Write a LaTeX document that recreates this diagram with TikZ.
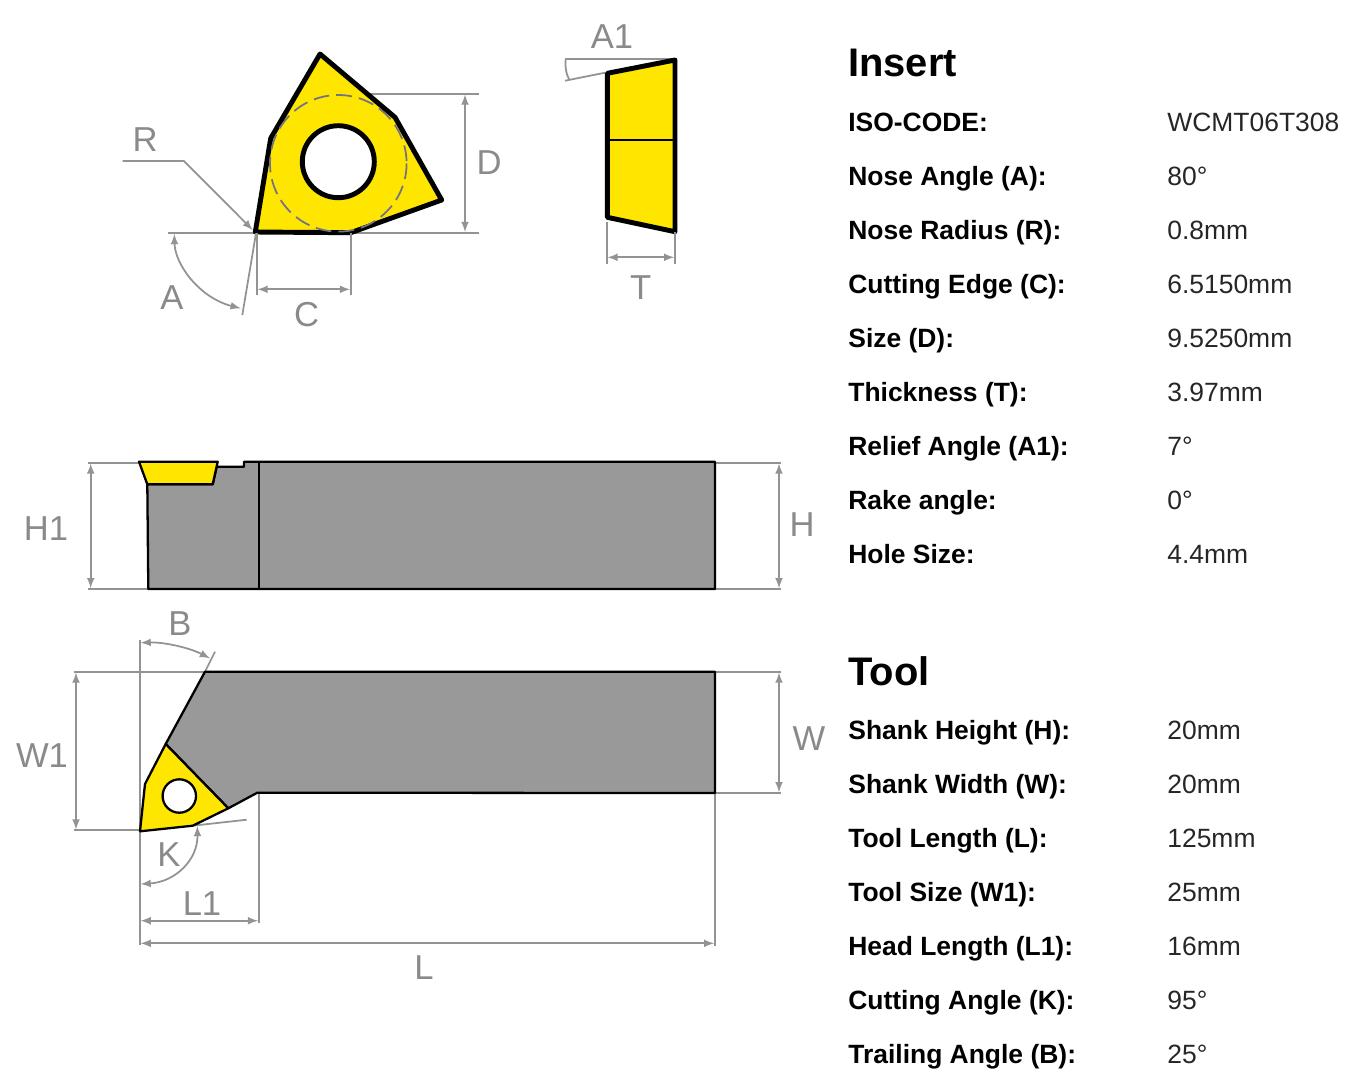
\documentclass[tikz,border=0pt]{standalone}
\usepackage{fontspec}
\setmainfont{Liberation Sans}
\tikzset{>=latex}
\definecolor{insertyellow}{HTML}{FFE600}
\definecolor{shankgray}{HTML}{999999}
\definecolor{dimgray}{HTML}{939393}
\definecolor{labelgray}{HTML}{8A8A8A}
\tikzset{
  dimline/.style={dimgray,line width=1pt},
  dimarrow/.style={dimgray,line width=1pt,<->},
  dimlabel/.style={labelgray,font=\fontsize{19.7}{22}\selectfont,inner sep=0pt},
  insertbig/.style={fill=insertyellow,draw=black,line width=2.8pt,line join=round},
  toolpart/.style={draw=black,line width=1.3pt,line join=round},
  heading/.style={anchor=base west,inner sep=0pt,font=\bfseries\fontsize{22.7}{26}\selectfont},
  keytext/.style={anchor=base west,inner sep=0pt,font=\bfseries\fontsize{15.05}{18}\selectfont},
  valuetext/.style={anchor=base west,inner sep=0pt,text=black!85,font=\fontsize{15.05}{18}\selectfont}
}

\begin{document}
\begin{tikzpicture}[x=0.02cm,y=-0.02cm]
  \useasboundingbox (0,0) rectangle (1365,1076);
  % insert, front
  \draw[dimline] (370,93.7) -- (479,93.7);
  \draw[dimline] (350.7,232.7) -- (479,232.7);
  \draw[dimline] (168,232.7) -- (256,232.7);
  \draw[insertbig] (320,54) -- (395,117.3) -- (441.7,200) -- (350.7,232.7) -- (255.3,232) -- (270.7,138.3) -- cycle;
  \draw[fill=white,draw=black,line width=2.8pt] (338.3,161.7) circle (36);
  \draw[dashed,draw=black!30!blue!10!gray,line width=1pt,dash pattern=on 9pt off 4pt] (338.3,163.3) circle (68.3);
  \draw[dimarrow] (465,94.5) -- (465,232);
  \draw[dimline,->] (122.7,161) -- (184,161) -- (252.7,230);
  \draw[dimline] (256,233.3) -- (242.3,315);
  \draw[dimarrow] (174.3,234) .. controls (175,265) and (200,298) .. (240.7,308.3);
  \draw[dimline] (256.7,233) -- (256.7,295);
  \draw[dimline] (350.7,233) -- (350.7,295);
  \draw[dimarrow] (257.5,289.3) -- (350,289.3);
  \node[dimlabel] (labelR) at (145,140) {R};
  \node[dimlabel] (labelA) at (172,298) {A};
  \node[dimlabel] (labelC) at (306.7,315) {C};
  \node[dimlabel] (labelD) at (489,162.7) {D};
  % insert, side
  \draw[dimline] (565,58.7) -- (675,58.7);
  \draw[dimline] (565,80.7) -- (605,72.7);
  \draw[dimline] (565.5,60) .. controls (565,66) and (566,74) .. (569,79);
  \draw[insertbig] (675,60) -- (675,231.7) -- (607.3,217.3) -- (607.3,73.3) -- cycle;
  \draw[black,line width=1pt] (607.3,139.7) -- (675,139.7);
  \draw[dimline] (606.7,222) -- (606.7,264);
  \draw[dimline] (675,232) -- (675,264);
  \draw[dimarrow] (607.5,257.3) -- (674.2,257.3);
  \node[dimlabel] (labelAone) at (612,36.7) {A1};
  \node[dimlabel] (labelT) at (640.7,287.3) {T};
  % tool, side
  \draw[dimline] (88.3,462.7) -- (139,462.7);
  \draw[dimline] (88.3,589) -- (148,589);
  \draw[dimline] (715,462.7) -- (781,462.7);
  \draw[dimline] (715,589) -- (781,589);
  \draw[dimarrow] (90.7,463.5) -- (90.7,588.2);
  \draw[dimarrow] (779,463.5) -- (779,588.2);
  \draw[toolpart,fill=shankgray] (147.3,484.3) -- (148.3,589) -- (715,589) -- (715,461.7) -- (244,461.7) -- (244,466.7) -- (216.7,466.7) -- (212.7,484.3) -- cycle;
  \draw[toolpart] (259.3,461.7) -- (259.3,589);
  \draw[toolpart,fill=insertyellow] (139,461.7) -- (217.7,461.7) -- (212.7,484.3) -- (147.3,484.3) -- cycle;
  \node[dimlabel] (labelHone) at (46,529) {H1};
  \node[dimlabel] (labelH) at (802,525) {H};
  % tool, top
  \draw[dimline] (74,671.7) -- (205,671.7);
  \draw[dimline] (74,830.3) -- (140,830.3);
  \draw[dimline] (715,671.7) -- (781,671.7);
  \draw[dimline] (715,793) -- (781,793);
  \draw[dimarrow] (76,672.5) -- (76,829.5);
  \draw[dimarrow] (779,672.5) -- (779,792.2);
  \draw[dimline] (139.8,640) -- (139.8,945);
  \draw[dimline] (205,671.7) -- (215,651.7);
  \draw[dimarrow] (140.6,642.7) .. controls (165,642) and (190,648) .. (210,658.3);
  \draw[dimline] (192.7,825.7) -- (246.7,819.7);
  \draw[dimarrow] (197.3,826) .. controls (198,860) and (175,882) .. (140.6,884);
  \draw[dimline] (258.7,793) -- (258.7,923);
  \draw[dimline] (715,793) -- (715,946);
  \draw[dimarrow] (140.6,920.7) -- (258,920.7);
  \draw[dimarrow] (140.6,943.3) -- (714.2,943.3);
  \draw[toolpart,fill=shankgray] (205,671.7) -- (715,671.7) -- (715,793) -- (257.3,792.7) -- (228.3,808.3) -- (165.7,744) -- cycle;
  \draw[toolpart,fill=insertyellow] (165.7,744) -- (228.3,808.3) -- (192.7,825.7) -- (140,831.3) -- (145,784) -- cycle;
  \draw[toolpart,fill=white] (179.3,796) circle (16.7);
  \node[dimlabel] (labelB) at (180,624) {B};
  \node[dimlabel] (labelWone) at (42,756) {W1};
  \node[dimlabel] (labelK) at (169,855) {K};
  \node[dimlabel] (labelLone) at (202,904) {L1};
  \node[dimlabel] (labelL) at (424,968) {L};
  \node[dimlabel] (labelW) at (809,739) {W};
  % insert data
  \node[heading] (headInsert) at (848,76.5) {Insert};
  \foreach \key/\val [count=\i] in {ISO-CODE:/WCMT06T308,Nose Angle (A):/80°,Nose Radius (R):/0.8mm,Cutting Edge (C):/6.5150mm,Size (D):/9.5250mm,Thickness (T):/3.97mm,Relief Angle (A1):/7°,Rake angle:/0°,Hole Size:/4.4mm}{
    \node[keytext] (insKey\i) at (848,{77+54*\i}) {\key};
    \node[valuetext] (insVal\i) at (1167,{77+54*\i}) {\val};
  }
  % tool data
  \node[heading] (headTool) at (848,685.5) {Tool};
  \foreach \key/\val [count=\i] in {Shank Height (H):/20mm,Shank Width (W):/20mm,Tool Length (L):/125mm,Tool Size (W1):/25mm,Head Length (L1):/16mm,Cutting Angle (K):/95°,Trailing Angle (B):/25°}{
    \node[keytext] (toolKey\i) at (848,{685+54*\i}) {\key};
    \node[valuetext] (toolVal\i) at (1167,{685+54*\i}) {\val};
  }
\end{tikzpicture}
\end{document}
